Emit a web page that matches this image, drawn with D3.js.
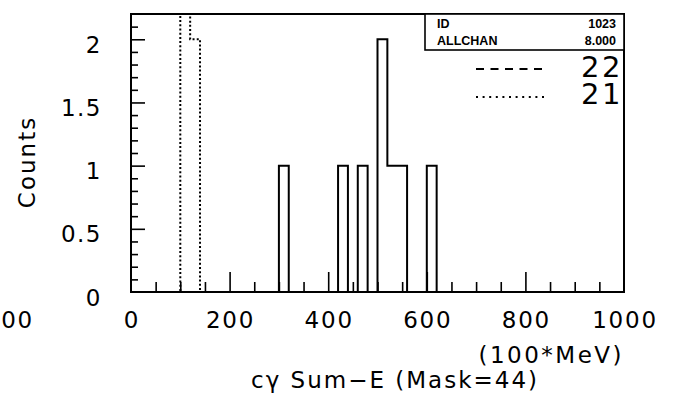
<!DOCTYPE html>
<html>
<head>
<meta charset="utf-8">
<script src="https://cdn.jsdelivr.net/npm/d3@7"></script>
<style>
  body { margin: 0; background: #fff; }
  text { fill: #000; }
  .num { font-family: "DejaVu Sans", sans-serif; font-weight: normal; }
  .stat { font-family: "Liberation Sans", Arial, sans-serif; font-weight: bold; font-size: 12.5px; }
</style>
</head>
<body>
<svg id="chart" width="673" height="405"></svg>
<script>
// Histogram binning (100*MeV units)
const xMin = 0, xMax = 1000, binWidth = 20;
const yMax = 2.2;

// Main histogram: lower bin edges and their entries
const mainBins   = [300, 420, 460, 500, 520, 540, 600];
const mainCounts = [1, 1, 1, 2, 1, 1, 1];

// Overlay "21" (dotted); the first bin runs off the top of the frame
const bins21   = [100, 120];
const counts21 = [3, 2];

// Overlay "22" (dashed): no entries in range
const bins22   = [];
const counts22 = [];

const xTickLabels = [0, 200, 400, 600, 800, 1000];
const yTickLabels = [0, 0.5, 1, 1.5, 2];
const statNames  = ["ID", "ALLCHAN"];
const statValues = ["1023", "8.000"];
const legendNames = ["22", "21"];
const legendDash  = ["8,6.5", "2,4.6"];

const svg = d3.select("#chart");
const L = 131, R = 624, T = 14, B = 292;

const x = d3.scaleLinear().domain([xMin, xMax]).range([L, R]);
const y = d3.scaleLinear().domain([0, yMax]).range([B, T]);

svg.append("clipPath").attr("id", "plotclip")
  .append("rect").attr("x", L).attr("y", T - 1).attr("width", R - L).attr("height", B - T + 2);

// Step outline over the full range from sparse bins
function stepPoints(bins, counts) {
  const n = Math.round((xMax - xMin) / binWidth);
  const vals = new Array(n).fill(0);
  bins.forEach((b, i) => { vals[Math.round((b - xMin) / binWidth)] = counts[i]; });
  const pts = [[xMin, 0]];
  vals.forEach((v, i) => {
    const lo = xMin + i * binWidth, hi = lo + binWidth;
    pts.push([lo, v], [hi, v]);
  });
  pts.push([xMax, 0]);
  return pts;
}
const line = d3.line().x(d => x(d[0])).y(d => y(d[1]));

const g = svg.append("g").attr("clip-path", "url(#plotclip)");
if (bins22.length) {
  g.append("path").attr("d", line(stepPoints(bins22, counts22)))
    .attr("fill", "none").attr("stroke", "#000").attr("stroke-width", 1.8)
    .attr("stroke-dasharray", legendDash[0]);
}
g.append("path").attr("d", line(stepPoints(bins21, counts21)))
  .attr("fill", "none").attr("stroke", "#000").attr("stroke-width", 2)
  .attr("stroke-dasharray", "2,2.2");
g.append("path").attr("d", line(stepPoints(mainBins, mainCounts)))
  .attr("fill", "none").attr("stroke", "#000").attr("stroke-width", 2);

// Frame
svg.append("rect").attr("x", L).attr("y", T).attr("width", R - L).attr("height", B - T)
  .attr("fill", "none").attr("stroke", "#000").attr("stroke-width", 2);

// X ticks: every 50, long at labelled values
const xAxis = d3.axisTop(x)
  .tickValues(d3.range(xMin + 50, xMax, 50))
  .tickSize(0).tickFormat("");
const xg = svg.append("g").attr("transform", `translate(0,${B})`).call(xAxis);
xg.select(".domain").remove();
xg.selectAll(".tick line")
  .attr("y2", d => (d % 200 === 0 ? -20 : -10))
  .attr("stroke", "#000").attr("stroke-width", 1.6);

// Y ticks: every 0.1, long at labelled values
const yAxis = d3.axisRight(y)
  .tickValues(d3.range(1, 22).map(i => i / 10))
  .tickSize(0).tickFormat("");
const yg = svg.append("g").attr("transform", `translate(${L},0)`).call(yAxis);
yg.select(".domain").remove();
yg.selectAll(".tick line")
  .attr("x2", d => (Math.abs(d * 2 - Math.round(d * 2)) < 1e-6 ? 14 : 7))
  .attr("stroke", "#000").attr("stroke-width", 1.6);

// Tick labels
svg.selectAll(".xl").data(xTickLabels).join("text")
  .attr("class", "num").attr("x", d => x(d) + 1).attr("y", 328)
  .attr("text-anchor", "middle").attr("font-size", 23).attr("letter-spacing", 1.8)
  .text(d => d);
svg.selectAll(".yl").data(yTickLabels).join("text")
  .attr("class", "num").attr("x", 102).attr("y", d => y(d) + 13.5)
  .attr("text-anchor", "end").attr("font-size", 23).attr("letter-spacing", 1.5)
  .text(d => d);

// Label from the neighbouring panel, cut by the left edge
svg.append("text").attr("class", "num").attr("x", 34).attr("y", 328)
  .attr("text-anchor", "end").attr("font-size", 23).attr("letter-spacing", 1.8)
  .text("1000");

// Axis titles
svg.append("text").attr("class", "num").attr("x", 624).attr("y", 363)
  .attr("text-anchor", "end").attr("font-size", 23).attr("letter-spacing", 2.5)
  .text("(100*MeV)");
svg.append("text").attr("class", "num").attr("x", 539).attr("y", 388)
  .attr("text-anchor", "end").attr("font-size", 23).attr("letter-spacing", 2)
  .text("cγ Sum−E (Mask=44)");
svg.append("text").attr("class", "num")
  .attr("transform", "translate(35,162) rotate(-90)")
  .attr("text-anchor", "middle").attr("font-size", 23).attr("letter-spacing", 2)
  .text("Counts");

// Statistics box
svg.append("rect").attr("x", 425).attr("y", T).attr("width", R - 425).attr("height", 36)
  .attr("fill", "#fff").attr("stroke", "#000").attr("stroke-width", 1.6);
statNames.forEach((s, i) => {
  svg.append("text").attr("class", "stat").attr("x", 437).attr("y", 27.5 + i * 17).text(s);
  svg.append("text").attr("class", "stat").attr("x", 616).attr("y", 27.5 + i * 17)
    .attr("text-anchor", "end").text(statValues[i]);
});

// Legend
legendNames.forEach((nm, i) => {
  const ly = 69 + i * 28;
  svg.append("line").attr("x1", 476).attr("x2", 545).attr("y1", ly).attr("y2", ly)
    .attr("stroke", "#000").attr("stroke-width", 1.8).attr("stroke-dasharray", legendDash[i]);
  svg.append("text").attr("class", "num").attr("x", 623).attr("y", 77 + i * 27)
    .attr("text-anchor", "end").attr("font-size", 29).attr("letter-spacing", 2.5)
    .text(nm);
});
</script>
</body>
</html>
